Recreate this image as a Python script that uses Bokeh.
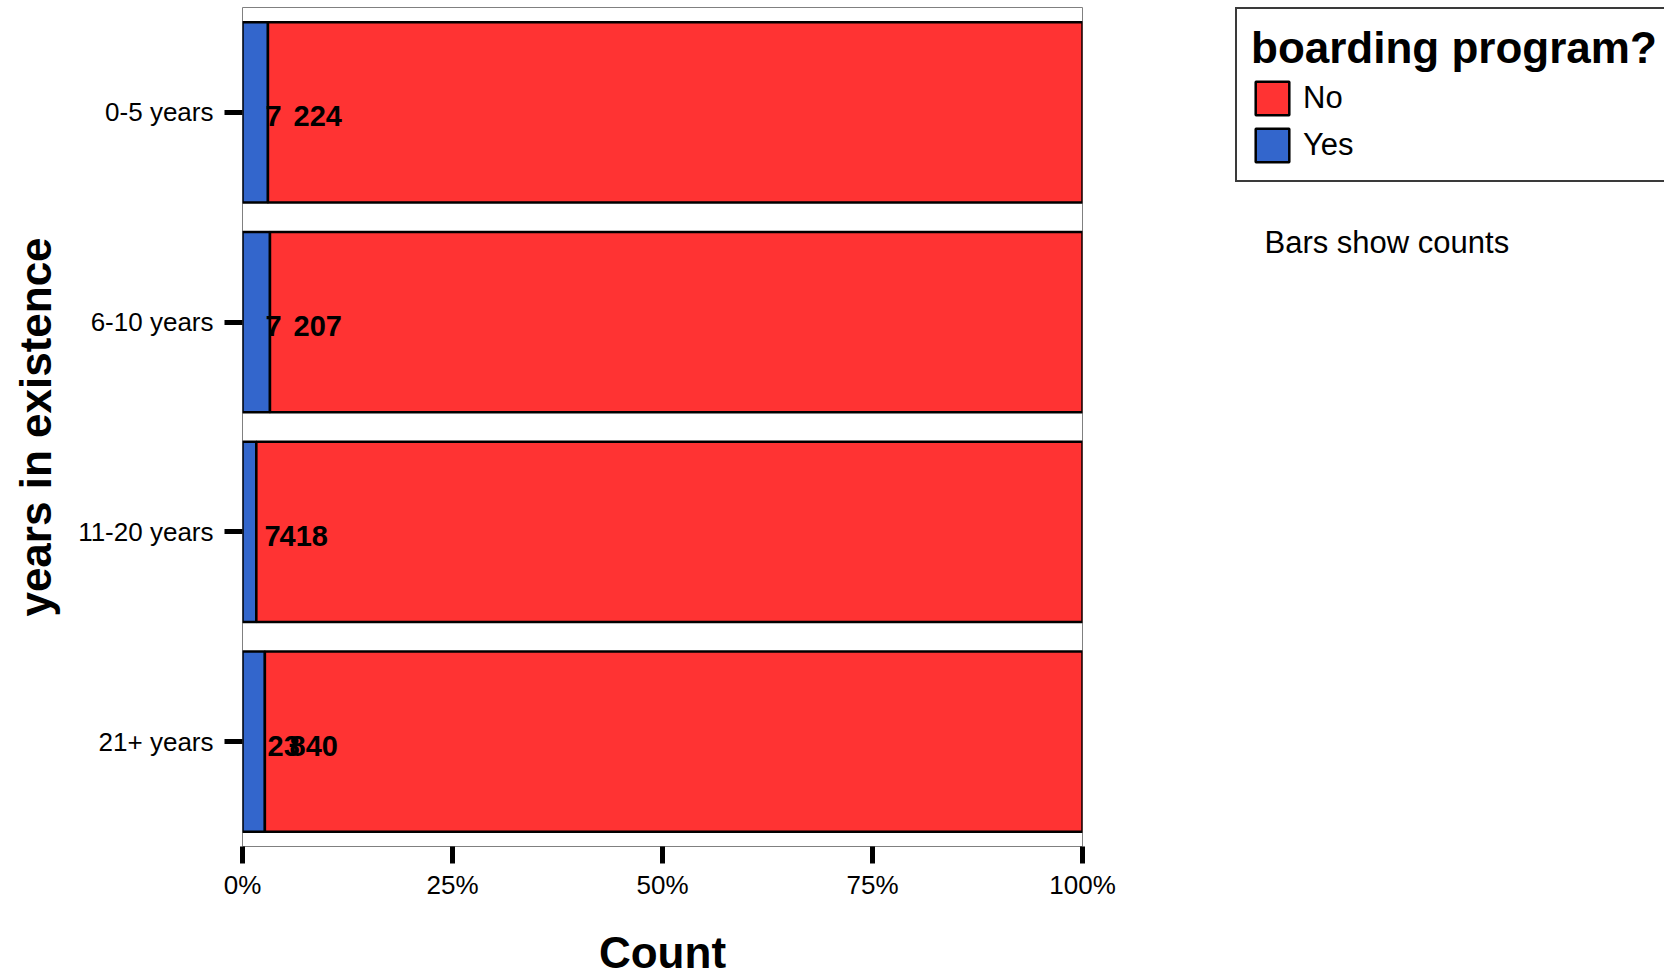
from bokeh.plotting import figure
from bokeh.layouts import row
from bokeh.models import (ColumnDataSource, FactorRange, Range1d, Legend, LegendItem,
                          FixedTicker, NumeralTickFormatter)
from bokeh.core.properties import value
from bokeh.embed import file_html
from bokeh.resources import INLINE

# ---- data ----
categories = ["0-5 years", "6-10 years", "11-20 years", "21+ years"]
yes_counts = [7, 7, 7, 23]
no_counts = [224, 207, 418, 840]
x_ticks = [0, 0.25, 0.5, 0.75, 1]
legend_title = "boarding program?"
legend_labels = ["No", "Yes"]
note_text = "Bars show counts"

# ---- styles ----
FONT = "Liberation Sans"
BLUE = "#3366CC"
RED = "#FF3333"
yes_label_nudge = [23, 23, 22, 25]
no_label_nudge = [51, 51, 37, 47]

totals = [a + b for a, b in zip(yes_counts, no_counts)]
src = ColumnDataSource(dict(
    cat=categories,
    Yes=[a / t for a, t in zip(yes_counts, totals)],
    No=[b / t for b, t in zip(no_counts, totals)],
    zero=[0] * len(categories),
    yes_txt=[str(v) for v in yes_counts],
    no_txt=[str(v) for v in no_counts],
    yes_off=yes_label_nudge,
    no_off=no_label_nudge,
))

p = figure(width=1150, height=979,
           y_range=FactorRange(factors=list(reversed(categories)), range_padding=0),
           x_range=Range1d(0, 1),
           output_backend="svg", toolbar_location=None,
           min_border_left=242, min_border_right=68,
           min_border_top=7, min_border_bottom=133)

rs = p.hbar_stack(["Yes", "No"], y="cat", height=0.86, source=src,
                  fill_color=[BLUE, RED], line_color="black", line_width=2.5)

for txt, off in (("yes_txt", "yes_off"), ("no_txt", "no_off")):
    p.text(x="zero", y="cat", text=txt, source=src, x_offset=off, y_offset=4,
           text_font=value(FONT), text_font_style="bold", text_font_size="29px",
           text_baseline="middle", text_align="left", text_color="black")

p.xgrid.visible = False
p.ygrid.visible = False
p.outline_line_color = "#808080"
p.outline_line_width = 1
p.background_fill_color = "white"
p.border_fill_color = "white"

xa = p.xaxis[0]
xa.ticker = FixedTicker(ticks=x_ticks)
xa.formatter = NumeralTickFormatter(format="0%")
xa.axis_line_color = None
xa.major_tick_line_color = "black"
xa.major_tick_line_width = 5
xa.major_tick_out = 17
xa.major_tick_in = 0
xa.minor_tick_line_color = None
xa.major_label_text_font = FONT
xa.major_label_text_font_size = "26px"
xa.major_label_text_color = "black"
xa.major_label_standoff = 6
xa.axis_label = "Count"
xa.axis_label_text_font = FONT
xa.axis_label_text_font_style = "bold"
xa.axis_label_text_font_size = "44px"
xa.axis_label_text_color = "black"
xa.axis_label_standoff = 25

ya = p.yaxis[0]
ya.axis_line_color = None
ya.major_tick_line_color = "black"
ya.major_tick_line_width = 5
ya.major_tick_out = 18
ya.major_tick_in = 0
ya.minor_tick_line_color = None
ya.major_label_text_font = FONT
ya.major_label_text_font_size = "26px"
ya.major_label_text_color = "black"
ya.major_label_standoff = 11
ya.axis_label = "years in existence"
ya.axis_label_text_font = FONT
ya.axis_label_text_font_style = "bold"
ya.axis_label_text_font_size = "44px"
ya.axis_label_text_color = "black"
ya.axis_label_standoff = 15

# ---- legend panel (separate figure to the right) ----
q = figure(width=514, height=979, x_range=Range1d(0, 1), y_range=Range1d(0, 1),
           output_backend="svg", toolbar_location=None,
           x_axis_location=None, y_axis_location=None,
           min_border_left=85, min_border_top=7, min_border_right=0, min_border_bottom=0)
q.xgrid.visible = False
q.ygrid.visible = False
q.outline_line_color = None
q.background_fill_color = "white"
q.border_fill_color = "white"

# legend keys: bars with no drawable position, only so the legend can draw its swatch
nan = float("nan")
key_src = ColumnDataSource(dict(y=[nan], left=[nan], right=[nan]))
r_no = q.hbar(y="y", left="left", right="right", height=0.1, source=key_src,
              fill_color=RED, line_color="black", line_width=2.5)
r_yes = q.hbar(y="y", left="left", right="right", height=0.1, source=key_src,
               fill_color=BLUE, line_color="black", line_width=2.5)

legend = Legend(items=[LegendItem(label=legend_labels[0], renderers=[r_no]),
                       LegendItem(label=legend_labels[1], renderers=[r_yes])],
                location="top_left",
                title=legend_title,
                title_text_font=FONT, title_text_font_style="bold",
                title_text_font_size="44px", title_text_color="black",
                title_standoff=4,
                label_text_font=FONT, label_text_font_size="31px",
                label_text_color="black",
                glyph_width=42, glyph_height=42, label_height=36, label_width=380,
                label_standoff=10, spacing=5, padding=14, margin=0,
                border_line_color="#3a3a3a", border_line_width=2,
                border_line_alpha=1,
                background_fill_color="white", background_fill_alpha=1)
q.add_layout(legend)

note_src = ColumnDataSource(dict(x=[0], y=[1], text=[note_text]))
q.text(x="x", y="y", text="text", source=note_src, x_offset=29, y_offset=235,
       text_font=value(FONT), text_font_size="31px", text_color="black",
       text_baseline="alphabetic", text_align="left")

open("out.html", "w").write(file_html(row(p, q, spacing=0), INLINE))
